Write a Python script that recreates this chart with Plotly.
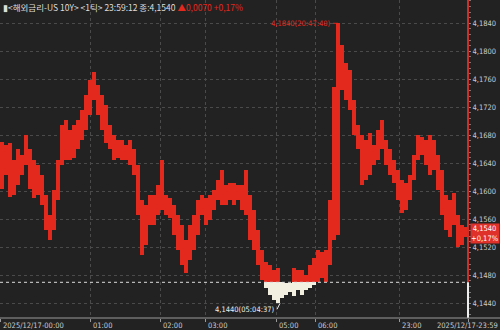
import plotly.graph_objects as go

# ---- data ----
highs = [4.1670, 4.1666, 4.1669, 4.1645, 4.1660, 4.1652, 4.1680, 4.1660, 4.1645, 4.1637,
         4.1623, 4.1595, 4.1566, 4.1602, 4.1645, 4.1695, 4.1702, 4.1688, 4.1695, 4.1702,
         4.1716, 4.1738, 4.1759, 4.1770, 4.1752, 4.1738, 4.1723, 4.1695, 4.1680, 4.1673,
         4.1673, 4.1666, 4.1673, 4.1660, 4.1637, 4.1588, 4.1580, 4.1595, 4.1595, 4.1609,
         4.1645, 4.1595, 4.1590, 4.1580, 4.1566, 4.1552, 4.1530, 4.1552, 4.1566, 4.1588,
         4.1595, 4.1590, 4.1595, 4.1602, 4.1616, 4.1630, 4.1609, 4.1612, 4.1612, 4.1609,
         4.1609, 4.1630, 4.1595, 4.1573, 4.1545, 4.1516, 4.1499, 4.1495, 4.1488, 4.1490,
         4.1470, 4.1469, 4.1469, 4.1490, 4.1488, 4.1488, 4.1480, 4.1495, 4.1505, 4.1516,
         4.1513, 4.1516, 4.1588, 4.1749, 4.1840, 4.1809, 4.1783, 4.1773, 4.1730, 4.1695,
         4.1680, 4.1673, 4.1683, 4.1666, 4.1688, 4.1702, 4.1673, 4.1660, 4.1645, 4.1630,
         4.1616, 4.1612, 4.1623, 4.1652, 4.1680, 4.1677, 4.1673, 4.1680, 4.1673, 4.1652,
         4.1630, 4.1595, 4.1588, 4.1598, 4.1566, 4.1552, 4.1549]
lows = [4.1603, 4.1623, 4.1592, 4.1595, 4.1609, 4.1623, 4.1637, 4.1603, 4.1590, 4.1595,
        4.1580, 4.1545, 4.1530, 4.1545, 4.1588, 4.1637, 4.1645, 4.1645, 4.1648, 4.1660,
        4.1673, 4.1688, 4.1709, 4.1730, 4.1709, 4.1688, 4.1669, 4.1660, 4.1645, 4.1648,
        4.1645, 4.1645, 4.1637, 4.1623, 4.1566, 4.1509, 4.1523, 4.1552, 4.1552, 4.1566,
        4.1573, 4.1566, 4.1562, 4.1538, 4.1516, 4.1495, 4.1483, 4.1502, 4.1516, 4.1538,
        4.1566, 4.1552, 4.1559, 4.1573, 4.1588, 4.1580, 4.1580, 4.1588, 4.1580, 4.1588,
        4.1573, 4.1566, 4.1530, 4.1516, 4.1495, 4.1473, 4.1462, 4.1452, 4.1445, 4.1440,
        4.1448, 4.1452, 4.1456, 4.1450, 4.1459, 4.1452, 4.1459, 4.1462, 4.1466, 4.1470,
        4.1476, 4.1470, 4.1495, 4.1530, 4.1538, 4.1745, 4.1730, 4.1716, 4.1680, 4.1660,
        4.1609, 4.1616, 4.1623, 4.1637, 4.1645, 4.1660, 4.1637, 4.1623, 4.1612, 4.1588,
        4.1569, 4.1573, 4.1588, 4.1616, 4.1645, 4.1652, 4.1637, 4.1623, 4.1630, 4.1602,
        4.1566, 4.1545, 4.1535, 4.1552, 4.1520, 4.1523, 4.1535]
prev_close = 4.1470
last_price = 4.1540
change = 0.0070
change_pct = 0.17
max_label = "4,1840(20:47:40)"
min_label = "4,1440(05:04:37)"
x_tick_labels = ["2025/12/17-00:00", "01:00", "02:00", "03:00", "05:00", "06:00", "23:00", "2025/12/17-23:59"]
x_tick_index = [-0.5, 22, 39.5, 50.75, 68.5, 78.25, 99.25, 116.5]
y_tick_vals = [4.1440, 4.1480, 4.1520, 4.1560, 4.1600, 4.1640, 4.1680, 4.1720, 4.1760, 4.1800, 4.1840]

# ---- styles ----
BG = "#222222"
RED = "#e3281e"
WHITE = "#f2efe0"
GRID = "#4a4a4a"
TXT = "#cccccc"
NARROW = "Liberation Sans Narrow, Arial Narrow, DejaVu Sans Condensed, Liberation Sans, sans-serif"
YMIN, YMAX = 4.1419, 4.18733

idx = list(range(len(highs)))
red_base, red_h, wh_base, wh_h = [], [], [], []
for h, l in zip(highs, lows):
    if h > prev_close:
        b = max(l, prev_close)
        red_base.append(b); red_h.append(h - b)
    else:
        red_base.append(None); red_h.append(None)
    if l < prev_close:
        t = min(h, prev_close)
        wh_base.append(l); wh_h.append(t - l)
    else:
        wh_base.append(None); wh_h.append(None)

fig = go.Figure()
fig.add_trace(go.Bar(x=idx, y=red_h, base=red_base, width=1.0,
                     marker=dict(color=RED, line=dict(width=0)), showlegend=False, hoverinfo="skip"))
fig.add_trace(go.Bar(x=idx, y=wh_h, base=wh_base, width=1.0,
                     marker=dict(color=WHITE, line=dict(width=0)), showlegend=False, hoverinfo="skip"))

# previous close dotted line
fig.add_shape(type="line", xref="paper", x0=0, x1=1, yref="y", y0=prev_close, y1=prev_close,
              line=dict(color="#dddddd", width=1, dash="dot"), layer="above")
# right vertical line (red above prev close, white below)
fig.add_shape(type="line", xref="paper", x0=1, x1=1, yref="y", y0=prev_close, y1=YMAX,
              line=dict(color="#c8302a", width=2))
fig.add_shape(type="line", xref="paper", x0=1, x1=1, yref="y", y0=YMIN, y1=prev_close,
              line=dict(color="#eeeeee", width=2))
# bottom axis line spanning to the right edge
fig.add_shape(type="line", xref="paper", x0=0, x1=500 / 468, yref="paper", y0=0, y1=0,
              line=dict(color="#999999", width=1))

ann = []
# header
ann.append(dict(xref="paper", yref="paper", x=0, y=1, xanchor="left", yanchor="top", xshift=1, yshift=1,
                showarrow=False, align="left",
                text=("<span style='color:#dddddd'>▮&lt;해외금리-US 10Y&gt; &lt;1틱&gt; 23:59:12 종:4,1540</span> "
                      f"<span style='color:{RED}'>▲0,0070 +0,17%</span>"),
                font=dict(family="Noto Sans CJK KR, sans-serif", size=8.5, color="#dddddd")))
# x labels
for i, (lab, pos) in enumerate(zip(x_tick_labels, x_tick_index)):
    if i == len(x_tick_labels) - 1:
        ann.append(dict(xref="paper", yref="paper", x=500 / 468, y=0, xanchor="right", yanchor="top",
                        yshift=-1, showarrow=False, text=lab,
                        font=dict(family=NARROW, size=7.5, color=TXT)))
    else:
        ann.append(dict(xref="x", yref="paper", x=pos, y=0, xanchor="left", yanchor="top",
                        xshift=1, yshift=-1, showarrow=False, text=lab,
                        font=dict(family=NARROW, size=7.5, color=TXT)))
# max / min labels
imax = highs.index(max(highs))
imin = lows.index(min(lows))
ann.append(dict(x=imax, y=max(highs), xref="x", yref="y", text=max_label, showarrow=True,
                arrowhead=0, arrowwidth=1, arrowcolor=RED, ax=-5, ay=0, xanchor="right",
                font=dict(family=NARROW, size=7.5, color=RED)))
ann.append(dict(x=imin + 0.5, y=min(lows), xref="x", yref="y", text=min_label, showarrow=True,
                arrowhead=0, arrowwidth=1, arrowcolor="#eeeeee", ax=-3, ay=6, xanchor="right",
                font=dict(family=NARROW, size=7.5, color="#eeeeee")))
# last price box
ann.append(dict(xref="paper", yref="y", x=1, y=last_price, xanchor="left", yanchor="middle", xshift=2,
                showarrow=False, align="center",
                text=f"{last_price:.4f}".replace(".", ",") + "<br>+" + f"{change_pct:.2f}".replace(".", ",") + "%",
                bgcolor="#e0302a", borderpad=0,
                font=dict(family=NARROW, size=7.5, color="#ffffff")))

fig.update_layout(
    width=500, height=330,
    margin=dict(l=0, r=32, t=0, b=12),
    paper_bgcolor=BG, plot_bgcolor=BG,
    separators=",.",
    barmode="overlay", bargap=0,
    showlegend=False,
    annotations=ann,
    xaxis=dict(range=[-0.5, len(highs) - 0.5], tickvals=x_tick_index, showticklabels=False,
               ticks="outside", ticklen=3, tickcolor="#999999",
               showgrid=True, gridcolor=GRID, griddash="dot", gridwidth=1,
               zeroline=False, showline=False, fixedrange=True),
    yaxis=dict(range=[YMIN, YMAX], side="right", tickvals=y_tick_vals, tickformat=".4f",
               ticks="outside", ticklen=2, tickcolor="#888888",
               minor=dict(dtick=0.0008, ticks="outside", ticklen=2, tickcolor="#777777", showgrid=False),
               tickfont=dict(family=NARROW, size=7.5, color=TXT),
               showgrid=True, gridcolor=GRID, griddash="dot", gridwidth=1,
               zeroline=False, showline=False, fixedrange=True),
)

fig.write_html("out.html")
